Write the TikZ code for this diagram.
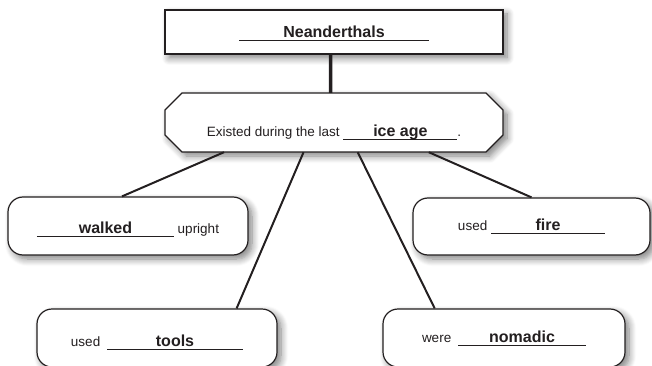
\documentclass[tikz,border=0pt]{standalone}
\usepackage{fontspec}
\setmainfont{Liberation Sans}
\usepackage{tikz}
\definecolor{inkgray}{RGB}{35,31,32}
\usetikzlibrary{calc, shadows.blur}
\tikzstyle{line} = [draw=inkgray, line width=2pt]
\newcommand{\fillin}[2]{\rlap{\color{inkgray}\rule[-3pt]{#1}{0.8pt}}\makebox[#1]{\fontsize{16}{19}\selectfont\bfseries #2}}

\begin{document}
\begin{tikzpicture}[x=1pt, y=-1pt,
    softshadow/.style={blur shadow={shadow xshift=4pt, shadow yshift=-4pt, shadow blur radius=7pt, shadow blur steps=8, shadow opacity=50}},
    box/.style={draw=inkgray, line width=1.2pt, fill=white, inner sep=0pt, text=inkgray,
                font=\fontsize{13.5}{16}\selectfont, softshadow},
    bubble/.style={box, rounded corners=15pt, minimum height=58pt, text depth=4pt}]
    \useasboundingbox (0,0) rectangle (652,366);
    \clip (0,0) rectangle (652,366);
    % Kasten oben
    \node[box, minimum width=338pt, minimum height=44pt, text height=16pt, text depth=4pt] (title) at (334,32) {\fillin{190pt}{Neanderthals}};
    % Achteck
    \draw[draw=inkgray, line width=1.2pt, fill=white, softshadow]
        (182,93) -- (486,93) -- (503,110) -- (503,135) -- (486,152) -- (182,152) -- (165,135) -- (165,110) -- cycle;
    \node[inner sep=0pt, minimum width=338pt, minimum height=59pt, text height=33pt, text depth=4pt, text=inkgray,
          font=\fontsize{13.5}{16}\selectfont] (era) at (334,122.5) {Existed during the last \fillin{114pt}{ice age}.};
    % Antworten
    \node[bubble, minimum width=240pt, text height=18.6pt] (walked) at (128,226) {\fillin{137pt}{walked} upright};
    \node[bubble, minimum width=237pt, minimum height=57pt, text height=12.4pt] (fire) at (531.5,226.5) {used \fillin{114pt}{fire}};
    \node[bubble, minimum width=240pt, text height=21.4pt] (tools) at (157,338) {used\enspace\fillin{136pt}{tools}};
    \node[bubble, minimum width=242pt, text height=13.4pt] (nomadic) at (504,338) {were\enspace\fillin{128pt}{nomadic}};
    % Verbindungen
    \draw[line, line width=3.5pt] ($(title.south west)!0.49!(title.south east)$) -- ($(era.north west)!0.49!(era.north east)$);
    \draw[line] ($(era.south west)!0.175!(era.south east)$) -- ($(walked.north west)!0.475!(walked.north east)$);
    \draw[line] ($(era.south west)!0.41!(era.south east)$) -- ($(tools.north west)!0.83!(tools.north east)$);
    \draw[line] ($(era.south west)!0.57!(era.south east)$) -- ($(nomadic.north west)!0.215!(nomadic.north east)$);
    \draw[line] ($(era.south west)!0.78!(era.south east)$) -- ($(fire.north west)!0.5!(fire.north east)$);
\end{tikzpicture}
\end{document}
